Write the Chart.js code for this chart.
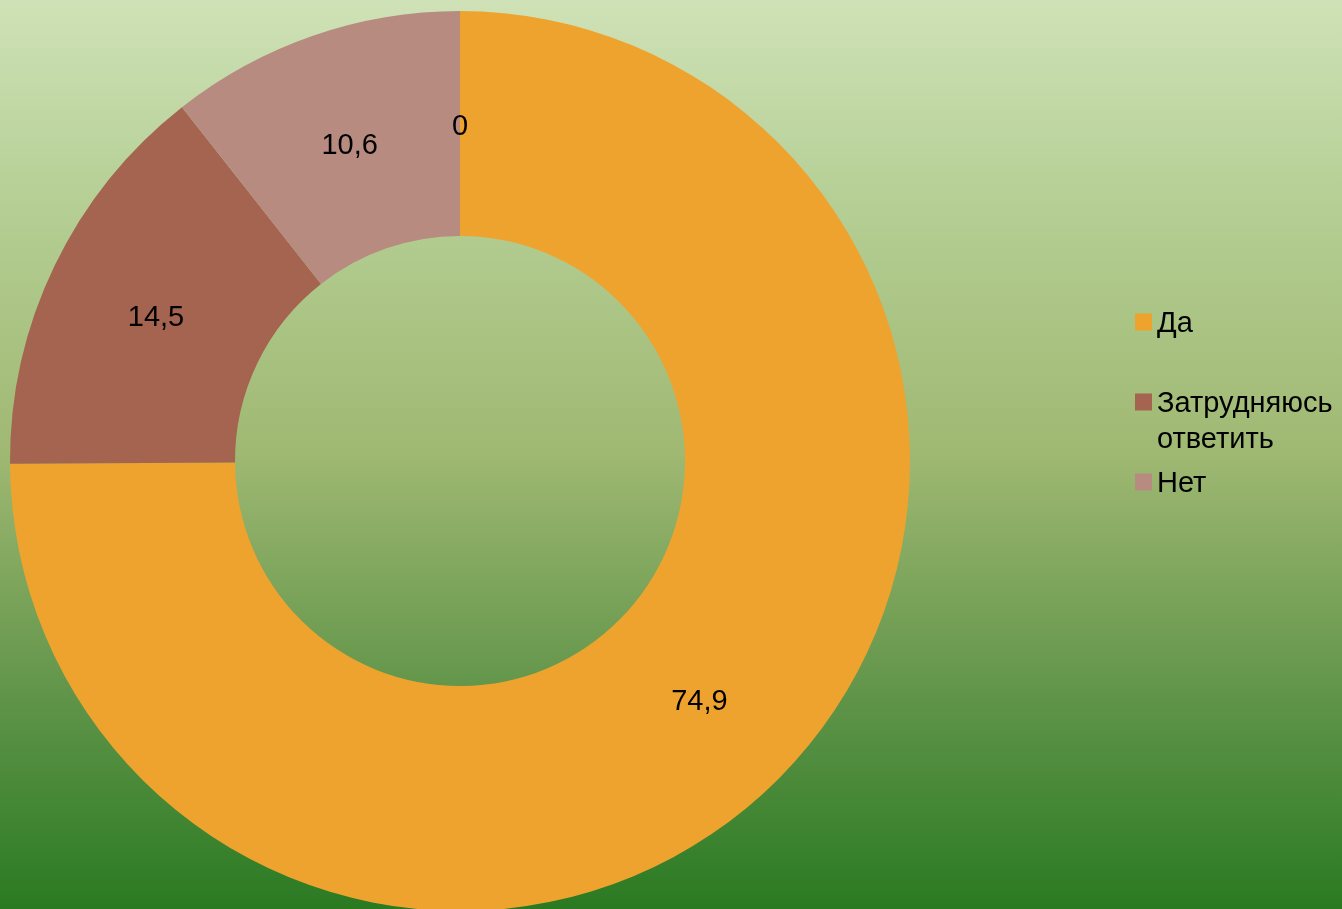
<!DOCTYPE html>
<html>
<head>
<meta charset="utf-8">
<script src="https://cdn.jsdelivr.net/npm/chart.js@4"></script>
<style>
html,body{margin:0;padding:0;overflow:hidden;background:#9fb872;}
#wrap{width:1342px;height:909px;position:relative;}
</style>
</head>
<body>
<div id="wrap"><canvas id="c" width="1342" height="909"></canvas></div>
<script>
const categories = ['Да', 'Затрудняюсь ответить', 'Нет', ''];
const values = [74.9, 14.5, 10.6, 0];
const legendLines = [['Да'], ['Затрудняюсь', 'ответить'], ['Нет']];
const sliceColors = ['#EFA32F', '#A4644F', '#B78B80', '#B78B80'];

const FONT = '"Liberation Sans", Arial, sans-serif';

const bgPlugin = {
  id: 'bg',
  beforeDraw(chart) {
    const ctx = chart.ctx;
    const g = ctx.createLinearGradient(0, 0, 0, chart.height);
    g.addColorStop(0, '#cfe2b7');
    g.addColorStop(0.22, '#b5cf95');
    g.addColorStop(0.5, '#9fb872');
    g.addColorStop(0.77, '#5f9448');
    g.addColorStop(1, '#2a7a22');
    ctx.save();
    ctx.fillStyle = g;
    ctx.fillRect(0, 0, chart.width, chart.height);
    ctx.restore();
  }
};

const labelPlugin = {
  id: 'vlabels',
  afterDatasetsDraw(chart) {
    const ctx = chart.ctx;
    const meta = chart.getDatasetMeta(0);
    ctx.save();
    ctx.font = '29px ' + FONT;
    ctx.fillStyle = '#000';
    ctx.textAlign = 'center';
    ctx.textBaseline = 'middle';
    meta.data.forEach((arc, i) => {
      const p = arc.tooltipPosition();
      const txt = String(values[i]).replace('.', ',');
      ctx.fillText(txt, p.x, p.y + 3.5);
    });
    ctx.restore();
  }
};

const legendPlugin = {
  id: 'customLegend',
  afterDraw(chart) {
    const ctx = chart.ctx;
    ctx.save();
    ctx.font = '29px ' + FONT;
    ctx.textAlign = 'left';
    ctx.textBaseline = 'middle';
    const x0 = 1135, box = 17, tx = 1157;
    let y = 322;
    legendLines.forEach((lines, i) => {
      ctx.fillStyle = sliceColors[i];
      ctx.fillRect(x0, y - box / 2, box, box);
      ctx.fillStyle = '#000';
      lines.forEach((ln, j) => ctx.fillText(ln, tx, y + 2 + j * 36));
      y += 80;
    });
    ctx.restore();
  }
};

new Chart(document.getElementById('c'), {
  type: 'doughnut',
  data: {
    labels: categories,
    datasets: [{
      data: values,
      backgroundColor: sliceColors,
      borderWidth: 0,
      hoverOffset: 0
    }]
  },
  options: {
    responsive: false,
    animation: false,
    cutout: '50%',
    radius: 450,
    layout: { padding: { left: 10, right: 432, top: 13, bottom: 0 } },
    plugins: {
      legend: { display: false },
      tooltip: { enabled: false }
    }
  },
  plugins: [bgPlugin, labelPlugin, legendPlugin]
});
</script>
</body>
</html>
